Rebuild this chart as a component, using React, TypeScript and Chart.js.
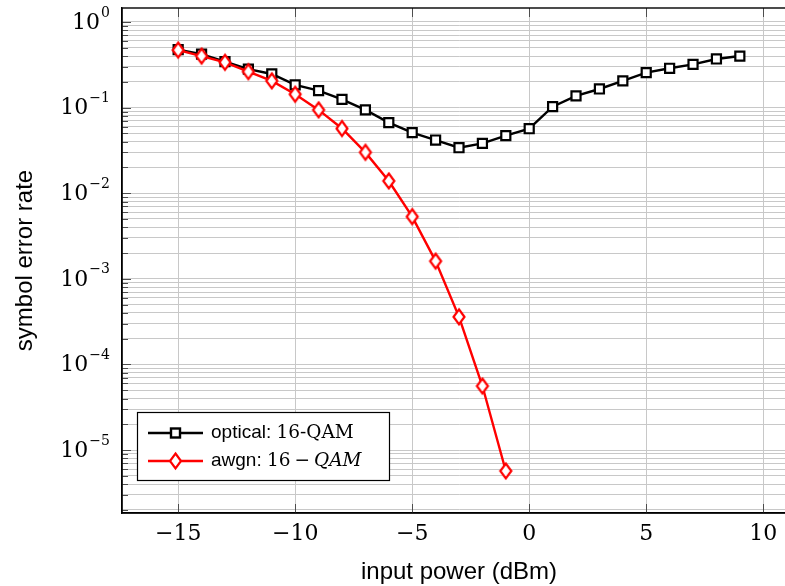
import React, { useEffect, useRef } from 'react';
import { Chart, registerables } from 'chart.js';

Chart.register(...registerables);

// ---- data ----
const POWER_OPTICAL = [-15, -14, -13, -12, -11, -10, -9, -8, -7, -6, -5, -4, -3, -2, -1, 0, 1, 2, 3, 4, 5, 6, 7, 8, 9];
const SER_OPTICAL = [0.475, 0.42, 0.344, 0.282, 0.247, 0.184, 0.158, 0.125, 0.094, 0.0667, 0.051, 0.0418, 0.034, 0.0382, 0.047, 0.0567, 0.1025, 0.137, 0.165, 0.205, 0.256, 0.288, 0.32, 0.37, 0.4];
const POWER_AWGN = [-15, -14, -13, -12, -11, -10, -9, -8, -7, -6, -5, -4, -3, -2, -1];
const SER_AWGN = [0.47, 0.4, 0.338, 0.263, 0.205, 0.143, 0.094, 0.057, 0.03, 0.0139, 0.00532, 0.00161, 0.00036, 0.000056, 0.0000057];

const X_TICKS = [-15, -10, -5, 0, 5, 10];
const Y_DECADES = [0, -1, -2, -3, -4, -5];
const X_MIN = -17.4;
const X_MAX = 11.4;
const Y_MIN = 1.84e-6;
const Y_MAX = 1.457;

const X_LABEL = 'input power (dBm)';
const Y_LABEL = 'symbol error rate';
const LEGEND_OPTICAL = ['optical: ', '16-QAM'];
const LEGEND_AWGN = ['awgn: ', '16', 'QAM'];

const SANS = '"Liberation Sans", Arial, sans-serif';
const SERIF = '"DejaVu Serif", serif';

function makeDiamond(color: string): HTMLCanvasElement {
  const c = document.createElement('canvas');
  c.width = 16;
  c.height = 20;
  const g = c.getContext('2d')!;
  g.beginPath();
  g.moveTo(8, 2.5);
  g.lineTo(13.5, 10);
  g.lineTo(8, 17.5);
  g.lineTo(2.5, 10);
  g.closePath();
  g.fillStyle = '#ffffff';
  g.fill();
  g.lineWidth = 2.2;
  g.strokeStyle = color;
  g.lineJoin = 'miter';
  g.stroke();
  return c;
}

const decor = {
  id: 'decor',
  beforeDatasetsDraw(chart: any) {
    const { ctx, chartArea: a, scales } = chart;
    const x = scales.x;
    const y = scales.y;
    ctx.save();
    ctx.strokeStyle = '#4d4d4d';
    ctx.lineWidth = 1;
    y.ticks.forEach((t: any) => {
      const py = Math.round(y.getPixelForValue(t.value)) + 0.5;
      const len = t.major ? 9 : 6;
      ctx.beginPath();
      ctx.moveTo(a.left, py);
      ctx.lineTo(a.left + len, py);
      ctx.moveTo(a.right, py);
      ctx.lineTo(a.right - len, py);
      ctx.stroke();
    });
    x.ticks.forEach((t: any) => {
      const px = Math.round(x.getPixelForValue(t.value)) + 0.5;
      ctx.beginPath();
      ctx.moveTo(px, a.bottom);
      ctx.lineTo(px, a.bottom - 9);
      ctx.moveTo(px, a.top);
      ctx.lineTo(px, a.top + 9);
      ctx.stroke();
    });
    ctx.strokeStyle = '#000';
    ctx.lineWidth = 1.4;
    ctx.strokeRect(a.left, a.top, a.right - a.left, a.bottom - a.top);
    ctx.restore();
  },
  afterDraw(chart: any) {
    const { ctx, chartArea: a, scales } = chart;
    const y = scales.y;
    ctx.save();
    ctx.fillStyle = '#000';
    // y tick labels 10^k
    const rightEdge = a.left - 12;
    Y_DECADES.forEach((k) => {
      const py = y.getPixelForValue(Math.pow(10, k));
      const exp = k === 0 ? '0' : '\u2212' + String(-k);
      ctx.font = `14px ${SERIF}`;
      ctx.textAlign = 'right';
      ctx.textBaseline = 'middle';
      const ew = ctx.measureText(exp).width;
      ctx.fillText(exp, rightEdge, py - 9);
      ctx.font = `22px ${SERIF}`;
      ctx.fillText('10', rightEdge - ew - 1, py + 1);
    });
    // axis titles
    ctx.font = `24px ${SANS}`;
    ctx.textAlign = 'center';
    ctx.textBaseline = 'alphabetic';
    ctx.fillText(X_LABEL, (a.left + a.right) / 2, 579);
    ctx.save();
    ctx.translate(32, (a.top + a.bottom) / 2);
    ctx.rotate(-Math.PI / 2);
    ctx.fillText(Y_LABEL, 0, 0);
    ctx.restore();

    // legend
    const lx = a.left + 15;
    const ly = a.bottom - 101;
    const lw = 252;
    const lh = 68;
    ctx.fillStyle = '#fff';
    ctx.fillRect(lx, ly, lw, lh);
    ctx.strokeStyle = '#000';
    ctx.lineWidth = 1.2;
    ctx.strokeRect(lx + 0.5, ly + 0.5, lw, lh);
    const rows = [ly + 21, ly + 49];
    const colors = ['#000000', '#ff0000'];
    rows.forEach((ry, i) => {
      ctx.strokeStyle = colors[i];
      ctx.lineWidth = 2.4;
      ctx.beginPath();
      ctx.moveTo(lx + 11, ry);
      ctx.lineTo(lx + 66, ry);
      ctx.stroke();
      const mx = lx + 38.5;
      if (i === 0) {
        ctx.fillStyle = '#fff';
        ctx.fillRect(mx - 4.5, ry - 4.5, 9, 9);
        ctx.strokeRect(mx - 4.5, ry - 4.5, 9, 9);
      } else {
        ctx.lineWidth = 2.2;
        ctx.beginPath();
        ctx.moveTo(mx, ry - 7.5);
        ctx.lineTo(mx + 5.5, ry);
        ctx.lineTo(mx, ry + 7.5);
        ctx.lineTo(mx - 5.5, ry);
        ctx.closePath();
        ctx.fillStyle = '#fff';
        ctx.fill();
        ctx.stroke();
      }
    });
    ctx.fillStyle = '#000';
    ctx.textAlign = 'left';
    ctx.textBaseline = 'middle';
    let tx = lx + 74;
    ctx.font = `19px ${SANS}`;
    ctx.fillText(LEGEND_OPTICAL[0], tx, rows[0]);
    tx += ctx.measureText(LEGEND_OPTICAL[0]).width;
    ctx.font = `18.5px ${SERIF}`;
    ctx.fillText(LEGEND_OPTICAL[1], tx, rows[0]);

    tx = lx + 74;
    ctx.font = `19px ${SANS}`;
    ctx.fillText(LEGEND_AWGN[0], tx, rows[1]);
    tx += ctx.measureText(LEGEND_AWGN[0]).width;
    ctx.font = `18.5px ${SERIF}`;
    ctx.fillText(LEGEND_AWGN[1], tx, rows[1]);
    tx += ctx.measureText(LEGEND_AWGN[1]).width + 4;
    ctx.fillText('\u2212', tx, rows[1]);
    tx += ctx.measureText('\u2212').width + 4;
    ctx.font = `italic 18.5px ${SERIF}`;
    ctx.fillText(LEGEND_AWGN[2], tx, rows[1]);
    ctx.restore();
  },
};

export default function App() {
  const ref = useRef<HTMLCanvasElement | null>(null);

  useEffect(() => {
    if (!ref.current) return;
    const diamond = makeDiamond('#ff0000');
    const chart = new Chart(ref.current, {
      type: 'line',
      data: {
        datasets: [
          {
            label: 'optical: 16-QAM',
            data: POWER_OPTICAL.map((p, i) => ({ x: p, y: SER_OPTICAL[i] })),
            borderColor: '#000000',
            backgroundColor: '#ffffff',
            borderWidth: 2.4,
            pointStyle: 'rect',
            pointRadius: 6.4,
            pointBorderWidth: 2.2,
            pointBorderColor: '#000000',
            pointBackgroundColor: '#ffffff',
            tension: 0,
            order: 1,
          },
          {
            label: 'awgn: 16 − QAM',
            data: POWER_AWGN.map((p, i) => ({ x: p, y: SER_AWGN[i] })),
            borderColor: '#ff0000',
            backgroundColor: '#ffffff',
            borderWidth: 2.4,
            pointStyle: diamond as any,
            pointRadius: 8,
            tension: 0,
            order: 0,
          },
        ],
      },
      options: {
        animation: false,
        responsive: false,
        devicePixelRatio: 1,
        layout: { autoPadding: false, padding: { top: 8, right: 4, left: 0, bottom: 0 } },
        plugins: {
          legend: { display: false },
          tooltip: { enabled: false },
          title: { display: false },
        },
        scales: {
          x: {
            type: 'linear',
            min: X_MIN,
            max: X_MAX,
            afterBuildTicks: (scale: any) => {
              scale.ticks = X_TICKS.map((v) => ({ value: v }));
            },
            afterFit: (scale: any) => {
              scale.height = 73;
              scale.paddingLeft = 0;
              scale.paddingRight = 0;
            },
            grid: { color: '#c8c8c8', lineWidth: 1, drawTicks: false },
            border: { display: true, color: '#000', width: 1.4 },
            ticks: {
              autoSkip: false,
              maxRotation: 0,
              padding: 8,
              color: '#000',
              font: { family: SERIF, size: 22 },
              callback: (v: any) => (Number(v) < 0 ? '\u2212' + Math.abs(Number(v)) : String(v)),
            },
          },
          y: {
            type: 'logarithmic',
            min: Y_MIN,
            max: Y_MAX,
            afterBuildTicks: (scale: any) => {
              const t: any[] = [];
              for (let k = -6; k <= 0; k++) {
                for (let m = 1; m <= 9; m++) {
                  const v = m * Math.pow(10, k);
                  if (v >= Y_MIN && v <= Y_MAX) t.push({ value: v, major: m === 1 });
                }
              }
              scale.ticks = t;
            },
            afterFit: (scale: any) => {
              scale.width = 122;
              scale.paddingTop = 0;
              scale.paddingBottom = 0;
            },
            grid: { color: '#c8c8c8', lineWidth: 1, drawTicks: false },
            border: { display: true, color: '#000', width: 1.4 },
            ticks: { display: false },
          },
        },
      },
      plugins: [decor],
    });
    return () => chart.destroy();
  }, []);

  return (
    <div
      style={{
        position: 'absolute',
        left: 0,
        top: 0,
        width: 785,
        height: 586,
        overflow: 'hidden',
        background: '#ffffff',
      }}
    >
      <canvas ref={ref} width={800} height={586} style={{ display: 'block' }} />
    </div>
  );
}
